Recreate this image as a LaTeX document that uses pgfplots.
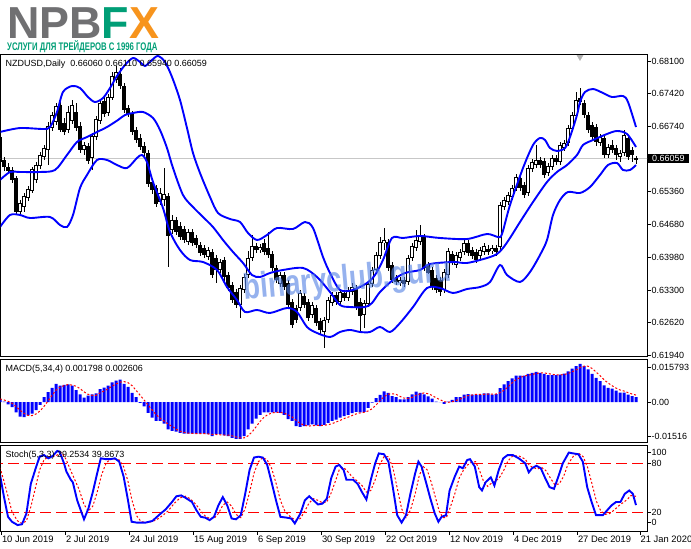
\documentclass[border=0pt]{standalone}
\usepackage{pgfplots}
\pgfplotsset{compat=1.18}
\usepackage{pgfplotstable}
\usepackage{graphicx}
\usepackage{fontspec}
\setmainfont{Liberation Sans}
\definecolor{mtblue}{RGB}{0,0,255}
\definecolor{npgray}{RGB}{112,112,114}
\definecolor{npgreen}{RGB}{0,158,118}
\definecolor{nporange}{RGB}{247,148,29}
\definecolor{wmblue}{RGB}{85,130,228}
\newcommand{\mtfont}{\fontsize{9}{10.8}\selectfont}
\newcommand{\dtfont}{\fontsize{9.4}{11}\selectfont}

\pgfplotstableread{
i o h l c
0 0.66510 0.66594 0.65944 0.65986
1 0.66028 0.66091 0.65798 0.65881
2 0.65881 0.65965 0.65735 0.65798
3 0.65819 0.65881 0.65546 0.65609
4 0.65651 0.65693 0.64876 0.64939
5 0.64939 0.65190 0.64876 0.65127
6 0.65043 0.65337 0.64939 0.65274
7 0.65232 0.65483 0.65169 0.65420
8 0.65379 0.65881 0.65337 0.65839
9 0.65609 0.65986 0.65546 0.65923
10 0.65902 0.66196 0.65839 0.66133
11 0.66091 0.66342 0.66028 0.66279
12 0.66238 0.66824 0.65923 0.66740
13 0.66698 0.67034 0.66636 0.66971
14 0.66824 0.67222 0.66761 0.67159
15 0.67180 0.67285 0.66615 0.66657
16 0.66803 0.66908 0.66552 0.66615
17 0.66657 0.67159 0.66594 0.67034
18 0.66845 0.67285 0.66782 0.67180
19 0.67034 0.67222 0.66636 0.66698
20 0.66740 0.66824 0.66175 0.66238
21 0.66238 0.66405 0.66133 0.66342
22 0.66321 0.66384 0.65944 0.66007
23 0.66070 0.66594 0.65819 0.66531
24 0.66510 0.66950 0.66447 0.66887
25 0.66845 0.67285 0.66782 0.67222
26 0.67264 0.67348 0.66929 0.66992
27 0.67013 0.67411 0.66950 0.67348
28 0.67327 0.67872 0.67285 0.67788
29 0.67704 0.67998 0.67641 0.67872
30 0.67830 0.67956 0.67516 0.67578
31 0.67578 0.67641 0.67013 0.67076
32 0.67118 0.67180 0.66929 0.66992
33 0.66992 0.67055 0.66552 0.66615
34 0.66657 0.66719 0.66384 0.66447
35 0.66489 0.66573 0.66238 0.66300
36 0.66321 0.66405 0.66112 0.66175
37 0.66175 0.66238 0.65463 0.65525
38 0.65567 0.65651 0.65316 0.65400
39 0.65442 0.65504 0.65043 0.65106
40 0.65148 0.65442 0.65085 0.65337
41 0.65190 0.65860 0.65064 0.65316
42 0.65274 0.65337 0.63787 0.64436
43 0.64562 0.64876 0.64478 0.64771
44 0.64771 0.64834 0.64457 0.64520
45 0.64646 0.64729 0.64352 0.64415
46 0.64583 0.64646 0.64289 0.64352
47 0.64310 0.64583 0.64248 0.64520
48 0.64520 0.64583 0.64227 0.64289
49 0.64394 0.64457 0.64185 0.64248
50 0.64248 0.64310 0.64017 0.64080
51 0.64185 0.64248 0.63975 0.64038
52 0.63996 0.64206 0.63933 0.64143
53 0.64101 0.64164 0.63556 0.63619
54 0.63975 0.64038 0.63451 0.63724
55 0.63724 0.63954 0.63661 0.63891
56 0.63933 0.63996 0.63493 0.63577
57 0.63619 0.63682 0.63284 0.63347
58 0.63409 0.63472 0.63032 0.63095
59 0.63263 0.63326 0.62928 0.62990
60 0.62990 0.63409 0.62718 0.63347
61 0.63305 0.63640 0.63242 0.63577
62 0.63619 0.64122 0.63556 0.63975
63 0.63975 0.64457 0.63912 0.64227
64 0.64227 0.64289 0.64080 0.64143
65 0.64143 0.64268 0.64080 0.64206
66 0.64289 0.64373 0.64038 0.64101
67 0.64185 0.64520 0.63975 0.64038
68 0.64059 0.64122 0.63703 0.63766
69 0.63766 0.63828 0.63451 0.63514
70 0.63430 0.63682 0.63368 0.63619
71 0.63619 0.63682 0.63305 0.63368
72 0.63451 0.63514 0.62928 0.62990
73 0.63053 0.63116 0.62509 0.62572
74 0.62928 0.62990 0.62614 0.62676
75 0.62928 0.63305 0.62865 0.63242
76 0.63179 0.63242 0.62928 0.62990
77 0.63053 0.63116 0.62655 0.62718
78 0.62781 0.63053 0.62718 0.62990
79 0.62928 0.62990 0.62551 0.62614
80 0.62655 0.62718 0.62362 0.62467
81 0.62425 0.62740 0.62090 0.62676
82 0.62676 0.63158 0.62614 0.63095
83 0.63032 0.63263 0.62969 0.63200
84 0.63200 0.63263 0.62990 0.63053
85 0.63053 0.63325 0.62990 0.63263
86 0.63242 0.63305 0.63074 0.63137
87 0.63137 0.63367 0.63074 0.63305
88 0.63263 0.63451 0.63200 0.63367
89 0.63346 0.63409 0.62886 0.62948
90 0.63053 0.63137 0.62425 0.62760
91 0.62781 0.63095 0.62509 0.63032
92 0.63011 0.63493 0.62948 0.63430
93 0.63430 0.63786 0.63367 0.63724
94 0.63724 0.64101 0.63661 0.64038
95 0.64017 0.64415 0.63954 0.64310
96 0.64289 0.64604 0.64143 0.64352
97 0.64310 0.64373 0.63703 0.63766
98 0.63828 0.63891 0.63451 0.63514
99 0.63556 0.63619 0.63409 0.63472
100 0.63451 0.63577 0.63388 0.63514
101 0.63514 0.63577 0.63367 0.63430
102 0.63472 0.64038 0.63409 0.63975
103 0.63975 0.64289 0.63912 0.64227
104 0.64185 0.64562 0.64122 0.64352
105 0.64310 0.64666 0.64248 0.64457
106 0.64415 0.64478 0.63703 0.63766
107 0.63828 0.63891 0.63640 0.63661
108 0.63724 0.63786 0.63305 0.63367
109 0.63556 0.63619 0.63242 0.63305
110 0.63514 0.63577 0.63179 0.63263
111 0.63305 0.63745 0.63242 0.63682
112 0.63619 0.64185 0.63556 0.64122
113 0.64059 0.64122 0.63828 0.63891
114 0.63828 0.64101 0.63766 0.64038
115 0.63975 0.64164 0.63912 0.64101
116 0.64101 0.64352 0.64038 0.64289
117 0.64289 0.64352 0.64017 0.64080
118 0.64143 0.64206 0.63954 0.64017
119 0.64101 0.64164 0.63870 0.63933
120 0.64017 0.64206 0.63954 0.64143
121 0.64101 0.64289 0.64038 0.64227
122 0.64164 0.64248 0.64038 0.64101
123 0.64122 0.64248 0.64059 0.64185
124 0.64185 0.64248 0.64017 0.64101
125 0.64206 0.65148 0.64143 0.65085
126 0.65043 0.65253 0.64981 0.65190
127 0.65148 0.65358 0.65085 0.65295
128 0.65253 0.65504 0.65190 0.65442
129 0.65442 0.65735 0.65379 0.65672
130 0.65651 0.65714 0.65379 0.65442
131 0.65504 0.65567 0.65232 0.65295
132 0.65337 0.65923 0.65274 0.65860
133 0.65839 0.66049 0.65777 0.65986
134 0.65923 0.66342 0.65860 0.66028
135 0.66028 0.66091 0.65860 0.65923
136 0.66007 0.66070 0.65651 0.65714
137 0.65756 0.65965 0.65693 0.65902
138 0.65881 0.66133 0.65819 0.66070
139 0.66070 0.66133 0.65923 0.65986
140 0.65986 0.66405 0.65923 0.66342
141 0.66279 0.66447 0.66217 0.66384
142 0.66384 0.66761 0.66321 0.66698
143 0.66678 0.67034 0.66615 0.66971
144 0.66950 0.67453 0.66887 0.67285
145 0.67327 0.67537 0.67180 0.67243
146 0.67222 0.67285 0.66908 0.66971
147 0.66971 0.67034 0.66594 0.66657
148 0.66761 0.66824 0.66447 0.66510
149 0.66719 0.66782 0.66321 0.66405
150 0.66384 0.66573 0.66321 0.66510
151 0.66489 0.66552 0.66070 0.66133
152 0.66133 0.66363 0.66070 0.66300
153 0.66342 0.66447 0.66175 0.66238
154 0.66279 0.66342 0.66028 0.66133
155 0.66091 0.66238 0.65986 0.66175
156 0.66175 0.66657 0.66112 0.66552
157 0.66489 0.66552 0.66028 0.66091
158 0.66238 0.66300 0.65986 0.66133
159 0.66060 0.66110 0.65940 0.66059
}\candles

\pgfplotstableread{
i p
0 0.66615
5 0.66698
10.75 0.66678
12.5 0.66719
14.25 0.67034
15.75 0.67453
18 0.67578
20 0.67536
22 0.67348
23.75 0.67243
25.75 0.67327
27.5 0.67536
29.25 0.67788
31.25 0.68018
33.25 0.68165
35 0.68081
36.25 0.67997
38 0.68123
39.5 0.68207
41.25 0.68081
43 0.67767
45 0.67285
46.75 0.66698
48.25 0.66175
50 0.65756
52.5 0.65253
54.5 0.64918
57.5 0.64792
60 0.64729
62 0.64499
64.25 0.64352
66.75 0.64457
69.25 0.64603
73.25 0.64583
76.25 0.64729
78.25 0.64603
80.75 0.63996
82.5 0.63661
85 0.63305
88.25 0.63305
91.75 0.63451
93.75 0.63619
95.75 0.63933
98 0.64394
100.75 0.64394
105 0.64436
110 0.64394
116.75 0.64373
121.75 0.64478
124.5 0.64415
125.5 0.64478
127.5 0.65085
130.75 0.65860
133.25 0.66342
135 0.66489
136.25 0.66447
137.5 0.66279
139.25 0.66217
141.25 0.66279
142.5 0.66510
144.25 0.66971
145 0.67243
146.25 0.67453
148.25 0.67516
150.75 0.67432
153 0.67348
155.75 0.67369
157 0.67243
159 0.66719
}\bbup

\pgfplotstableread{
i p
0 0.65609
2.5 0.65777
5 0.65777
10 0.65777
13.75 0.65819
16.75 0.66133
19.25 0.66405
21.75 0.66510
24.25 0.66615
26.75 0.66719
29.5 0.66866
31.25 0.66971
33.25 0.67013
35.75 0.67034
38.25 0.66908
40 0.66657
41.75 0.66279
43.25 0.65860
45.75 0.65295
48.25 0.65043
50.75 0.64834
53.25 0.64624
55.75 0.64352
58.25 0.64101
60.75 0.63871
63 0.63619
65 0.63577
67.5 0.63661
70.75 0.63724
75.75 0.63766
79.25 0.63577
82.5 0.63263
85 0.62990
87.5 0.62948
91.25 0.62948
93 0.63032
95 0.63263
98.25 0.63514
101.25 0.63661
105 0.63724
107.5 0.63849
113.25 0.63891
116.75 0.63871
121.75 0.63975
124.25 0.64059
125.75 0.64185
127.5 0.64394
130 0.64729
133.25 0.65148
136.75 0.65567
139.25 0.65777
141.75 0.65923
144.25 0.66133
145.75 0.66342
148.25 0.66447
151.75 0.66573
154.25 0.66636
156.75 0.66573
159 0.66300
}\bbmid

\pgfplotstableread{
i p
0 0.64625
2.5 0.64876
5 0.64876
7.5 0.64813
12.5 0.64834
15 0.64666
16.75 0.64625
18.25 0.64876
20 0.65441
21.75 0.65714
24.25 0.66028
26.75 0.66028
29.25 0.65923
31.75 0.65860
34.25 0.66070
35.5 0.66133
36.75 0.65986
38.25 0.65567
40.75 0.65022
42.5 0.64520
45 0.64143
47.5 0.63933
50.75 0.63891
54.25 0.63724
56.75 0.63367
59.25 0.63095
61.25 0.62844
64.25 0.62886
67.5 0.62823
71.75 0.62928
74.25 0.62844
76.75 0.62530
79.25 0.62404
82.5 0.62320
85 0.62425
87.5 0.62467
90 0.62425
92.5 0.62425
95 0.62530
97.5 0.62425
100 0.62613
103.25 0.62948
106.75 0.63346
110 0.63346
113.25 0.63242
116.75 0.63325
120 0.63367
122.5 0.63472
125 0.63829
126.75 0.63619
130 0.63472
132.5 0.63682
135 0.64038
136.75 0.64352
138.25 0.64876
140 0.65190
142 0.65358
145 0.65337
147.5 0.65462
150 0.65714
152 0.65923
154.25 0.65965
155.75 0.65819
157.5 0.65819
159 0.65923
}\bblow

\pgfplotstableread{
i m s
0 0.0010 0.0012
1 0.0002 0.0008
2 -0.0008 0.0003
3 -0.0019 -0.0004
4 -0.0038 -0.0016
5 -0.0054 -0.0030
6 -0.0056 -0.0042
7 -0.0049 -0.0049
8 -0.0043 -0.0050
9 -0.0030 -0.0044
10 -0.0010 -0.0033
11 0.0018 -0.0016
12 0.0037 0.0004
13 0.0053 0.0025
14 0.0068 0.0044
15 0.0061 0.0055
16 0.0064 0.0061
17 0.0066 0.0065
18 0.0061 0.0063
19 0.0044 0.0059
20 0.0029 0.0050
21 0.0017 0.0038
22 0.0024 0.0029
23 0.0029 0.0025
24 0.0032 0.0025
25 0.0048 0.0034
26 0.0054 0.0041
27 0.0061 0.0049
28 0.0073 0.0059
29 0.0080 0.0067
30 0.0083 0.0074
31 0.0068 0.0076
32 0.0056 0.0072
33 0.0034 0.0061
34 0.0018 0.0044
35 -0.0003 0.0026
36 -0.0016 0.0008
37 -0.0040 -0.0010
38 -0.0058 -0.0029
39 -0.0070 -0.0046
40 -0.0070 -0.0060
41 -0.0080 -0.0070
42 -0.0101 -0.0081
43 -0.0107 -0.0090
44 -0.0109 -0.0100
45 -0.0114 -0.0108
46 -0.0117 -0.0112
47 -0.0117 -0.0115
48 -0.0117 -0.0116
49 -0.0117 -0.0117
50 -0.0117 -0.0117
51 -0.0117 -0.0117
52 -0.0119 -0.0118
53 -0.0126 -0.0120
54 -0.0119 -0.0120
55 -0.0119 -0.0121
56 -0.0123 -0.0122
57 -0.0126 -0.0122
58 -0.0133 -0.0125
59 -0.0136 -0.0129
60 -0.0136 -0.0133
61 -0.0126 -0.0133
62 -0.0101 -0.0125
63 -0.0080 -0.0111
64 -0.0061 -0.0092
65 -0.0047 -0.0072
66 -0.0038 -0.0056
67 -0.0038 -0.0046
68 -0.0038 -0.0040
69 -0.0038 -0.0038
70 -0.0040 -0.0038
71 -0.0047 -0.0041
72 -0.0063 -0.0047
73 -0.0070 -0.0055
74 -0.0089 -0.0067
75 -0.0092 -0.0079
76 -0.0089 -0.0085
77 -0.0086 -0.0089
78 -0.0083 -0.0088
79 -0.0086 -0.0086
80 -0.0089 -0.0086
81 -0.0084 -0.0086
82 -0.0077 -0.0084
83 -0.0070 -0.0080
84 -0.0065 -0.0074
85 -0.0058 -0.0068
86 -0.0052 -0.0061
87 -0.0047 -0.0056
88 -0.0041 -0.0050
89 -0.0036 -0.0044
90 -0.0038 -0.0040
91 -0.0036 -0.0038
92 -0.0021 -0.0033
93 -0.0002 -0.0025
94 0.0015 -0.0011
95 0.0027 0.0005
96 0.0040 0.0020
97 0.0034 0.0029
98 0.0022 0.0031
99 0.0018 0.0029
100 0.0010 0.0021
101 0.0010 0.0015
102 0.0018 0.0014
103 0.0029 0.0017
104 0.0039 0.0025
105 0.0034 0.0030
106 0.0029 0.0034
107 0.0021 0.0031
108 0.0013 0.0025
109 0.0002 0.0016
110 0.0000 0.0009
111 -0.0007 0.0002
112 0.0002 -0.0001
113 0.0008 0.0001
114 0.0018 0.0006
115 0.0018 0.0011
116 0.0028 0.0018
117 0.0030 0.0024
118 0.0028 0.0026
119 0.0028 0.0029
120 0.0028 0.0029
121 0.0032 0.0029
122 0.0032 0.0030
123 0.0028 0.0030
124 0.0030 0.0030
125 0.0052 0.0035
126 0.0066 0.0044
127 0.0078 0.0056
128 0.0088 0.0071
129 0.0098 0.0083
130 0.0098 0.0091
131 0.0098 0.0096
132 0.0105 0.0100
133 0.0108 0.0102
134 0.0112 0.0106
135 0.0108 0.0108
136 0.0105 0.0108
137 0.0100 0.0106
138 0.0100 0.0103
139 0.0100 0.0101
140 0.0102 0.0101
141 0.0106 0.0102
142 0.0114 0.0106
143 0.0124 0.0112
144 0.0133 0.0119
145 0.0142 0.0128
146 0.0133 0.0133
147 0.0121 0.0133
148 0.0105 0.0125
149 0.0090 0.0112
150 0.0078 0.0098
151 0.0062 0.0083
152 0.0053 0.0071
153 0.0050 0.0061
154 0.0043 0.0052
155 0.0035 0.0045
156 0.0035 0.0041
157 0.0028 0.0035
158 0.0022 0.0030
159 0.0018 0.0026
}\macd

\pgfplotstableread{
i v
0 66
1 39
2 15
3 9
4.4 5
5.5 6
6.6 19
7.7 55
8.8 72
9.9 88
11 90
12.1 86
13.2 89
14.3 95
14.9 94
16 80
16.6 70
17.7 60
18.2 57
19.3 35
21 12
22.1 25
23.2 45
24.3 68
25.2 86
26.5 85
27.6 85
28.7 86
29.8 82
30.9 64
32 35
32.9 9
34.2 8
36.4 8
38.1 10
39.7 17
41.4 24
43 33
44.1 40
45.3 41
46.4 38
48 33
49.1 23
50.2 15
51.3 14
52.4 11
53.5 15
54.6 29
55.7 39
56.8 29
57.9 13
59 12
60.2 17
61.3 43
62.4 72
63.5 87
64.6 88
65.7 87
66.8 78
67.9 57
69 35
70.1 15
71.7 14
72.8 13
73.7 7
75.1 19
76.2 35
77.3 40
78.4 35
79.5 30
80.6 31
81.7 37
82.8 62
83.9 76
84.8 78
85.9 72
86.6 60
88.3 60
89.4 55
90.5 45
91.6 36
92.7 60
93.8 80
94.7 92
96 91
97.1 82
98.2 51
99.3 17
100.4 8
101.5 17
102.6 43
103.8 68
104.6 82
105.4 76
106.5 57
107.6 37
108.7 19
109.6 9
110.4 15
111.5 17
112.4 47
113.7 64
114.8 76
115.7 74
116.8 84
117.5 85
118.7 76
119.8 51
120.5 47
121.4 57
122.7 63
123.6 53
124.7 72
125.8 86
126.9 90
128.2 90
129.7 86
131.3 80
132.2 69
133 74
134.1 77
135.2 74
136.3 62
137.4 51
138.5 49
139.6 64
140.7 80
142.2 93
143.3 92
144.6 91
145.7 82
146.8 51
147.9 33
149 17
150.7 17
151.8 23
152.9 29
154 33
155.1 33
156.2 43
157.3 47
158.2 43
159 29.25
}\stochmain

\pgfplotstableread{
i v
0 75
1 58
2 40
3 21
4.4 10
5.5 7
6.6 10
7.7 27
8.8 49
9.9 72
11 84
12.1 88
13.2 88
14.3 90
15.4 93
16.5 85
17.6 72
18.7 60
19.8 48
21 30
22.1 22
23.2 28
24.3 45
25.4 66
26.5 80
27.6 85
28.7 85
29.8 84
30.9 76
32 58
33 35
34.2 16
35.3 9
37 8
39 11
40.5 16
42 22
43.5 31
45 38
46.4 40
47.5 37
49 30
50.2 22
51.3 16
52.4 13
53.5 13
54.6 19
55.7 29
56.8 33
57.9 28
59 18
60.2 14
61.3 25
62.4 45
63.5 68
64.6 82
65.7 87
66.8 84
67.9 74
69 56
70.1 35
71.2 22
72.8 14
74 11
75.1 13
76.2 22
77.3 32
78.4 37
79.5 35
80.6 32
81.7 33
82.8 44
83.9 59
84.8 72
85.9 75
86.9 70
88 64
89.4 58
90.5 53
91.6 45
92.7 47
93.8 60
94.9 78
96 88
97.1 88
98.2 75
99.3 50
100.4 25
101.5 14
102.6 23
103.8 43
104.8 65
105.8 76
106.8 72
107.8 57
108.9 38
109.8 22
110.7 14
111.6 14
112.6 27
113.7 43
114.8 62
115.9 72
116.9 78
117.8 81
118.9 82
119.9 71
120.9 58
121.9 52
122.9 56
123.9 58
124.9 63
125.9 71
127 83
128.2 89
129.7 89
131.3 85
132.4 77
133.3 75
134.3 73
135.4 75
136.5 71
137.6 62
138.7 54
139.8 55
140.9 64
142 79
143.4 89
144.7 92
145.8 88
146.9 75
148 55
149.1 34
150.2 22
151.3 18
152.4 19
153.5 23
154.6 28
155.7 32
156.8 36
157.8 41
159 39.87
}\stochsig

\pgfplotsset{
  mtaxis/.style={
    scale only axis, width=646.5bp, xmin=0.125, xmax=161.75,
    anchor=south west,
    axis line style={black, line width=1bp},
    tick style={black, line width=0.8bp},
    tick align=outside, major tick length=3.5bp,
    ytick pos=right, yticklabel pos=right,
    yticklabel style={font=\mtfont, inner sep=1bp},
    xtick=\empty, scaled ticks=false,
    clip mode=individual,
  },
  wick/.style={draw=none, forget plot, error bars/.cd, y dir=both, y explicit, error mark=none,
    error bar style={draw=black, line width=1bp}},
  body/.style={draw=none, forget plot, error bars/.cd, y dir=both, y explicit, error mark=none,
    error bar style={draw=black, line width=3.2bp}},
  inner/.style={draw=none, forget plot, error bars/.cd, y dir=both, y explicit, error mark=none,
    error bar style={draw=white, line width=1.2bp}},
}

\begin{document}
\begin{tikzpicture}[x=1bp,y=1bp]
\useasboundingbox (0bp,0bp) rectangle (691bp,549bp);

% logo
\node[anchor=base west, inner sep=0, font=\fontsize{45}{45}\selectfont\bfseries] at (7bp,510.5bp)
  {\textcolor{npgray}{NPB}\textcolor{npgreen}{F}\textcolor{nporange}{X}};
\node[anchor=base west, inner sep=0, text=npgreen] at (7bp,498.3bp)
  {\scalebox{0.65}[0.92]{\fontsize{12}{12}\selectfont\bfseries УСЛУГИ ДЛЯ ТРЕЙДЕРОВ С 1996 ГОДА}};

% main price panel
\begin{axis}[mtaxis, at={(0.5bp,192bp)}, height=302bp,
  ymin=0.61901, ymax=0.68228,
  ytick={0.6194,0.6262,0.6330,0.6398,0.6468,0.6536,0.6674,0.6742,0.6810},
  yticklabels={0.61940,0.62620,0.63300,0.63980,0.64680,0.65360,0.66740,0.67420,0.68100}]
\addplot[color=black!22, line width=0.9bp, forget plot] coordinates {(-2,0.66059) (170,0.66059)};
\addplot[wick] table[x=i, y expr={(\thisrow{h}+\thisrow{l})/2}, y error expr={(\thisrow{h}-\thisrow{l})/2}] {\candles};
\addplot[body] table[x=i, y expr={(\thisrow{o}+\thisrow{c})/2}, y error expr={max(abs(\thisrow{c}-\thisrow{o})/2,0.00011)}] {\candles};
\addplot[inner] table[x=i, y expr={(\thisrow{o}+\thisrow{c})/2}, y error expr={(\thisrow{c}>\thisrow{o}) ? max((\thisrow{c}-\thisrow{o})/2-0.00021,0) : 0}] {\candles};
\addplot[mtblue, line width=1.9bp, smooth] table[x=i, y=p] {\bbup};
\addplot[mtblue, line width=1.9bp, smooth] table[x=i, y=p] {\bbmid};
\addplot[mtblue, line width=1.9bp, smooth] table[x=i, y=p] {\bblow};
\addplot[only marks, mark=triangle*, mark size=3.5bp, mark options={rotate=180, fill=black!30, draw=black!30}] coordinates {(145,0.68186)};
\node[anchor=base west, inner sep=0, font=\mtfont] at (rel axis cs:0,1) [xshift=5bp, yshift=-11.5bp]
  {NZDUSD,Daily\ \ 0.66060 0.66110 0.65940 0.66059};
\node[anchor=west, fill=black, text=white, font=\mtfont, inner xsep=4.5bp, inner ysep=1.8bp] at (axis cs:161.75,0.66059) [xshift=0.5bp] {0.66059};
\end{axis}

% MACD panel
\begin{axis}[mtaxis, at={(0.5bp,106bp)}, height=83.5bp,
  ymin=-0.01516, ymax=0.015793,
  ytick={-0.01257,0,0.01275}, yticklabels={-0.01516,0.00,0.015793}]
\addplot[ybar, bar width=3bp, fill=mtblue, draw=none] table[x=i, y=m] {\macd};
\addplot[red, line width=1bp, dash pattern=on 2bp off 2bp] table[x=i, y=s] {\macd};
\node[anchor=base west, inner sep=0, font=\mtfont] at (rel axis cs:0,1) [xshift=5bp, yshift=-12.5bp]
  {MACD(5,34,4) 0.001798 0.002606};
\end{axis}

% Stochastic panel
\begin{axis}[mtaxis, at={(0.5bp,18bp)}, height=85.5bp,
  ymin=-2.2, ymax=101.6,
  ytick={7.9,20,80,93.7}, yticklabels={0,20,80,100},
  xtick={0.33,16.33,32.33,48.33,64.33,80.33,96.33,112.33,128.33,144.33,160},
  xticklabels={10 Jun 2019,2 Jul 2019,24 Jul 2019,15 Aug 2019,6 Sep 2019,30 Sep 2019,22 Oct 2019,12 Nov 2019,4 Dec 2019,27 Dec 2019,21 Jan 2020},
  xtick pos=bottom,
  xticklabel style={font=\dtfont, anchor=north west, inner sep=1bp, xshift=-0.5bp}]
\addplot[red, line width=1.2bp, dash pattern=on 11bp off 5bp] coordinates {(-2,80) (170,80)};
\addplot[red, line width=1.2bp, dash pattern=on 11bp off 5bp] coordinates {(-2,20) (170,20)};
\addplot[red, line width=1bp, dash pattern=on 2bp off 2bp] table[x=i, y=v] {\stochsig};
\addplot[mtblue, line width=1.9bp] table[x=i, y=v] {\stochmain};
\node[anchor=base west, inner sep=0, font=\mtfont] at (rel axis cs:0,1) [xshift=5bp, yshift=-12bp]
  {Stoch(5,3,3) 29.2534 39.8673};
\end{axis}

% watermark
\node[rotate=5, opacity=0.62, text=wmblue, inner sep=0, font=\fontsize{36}{36}\selectfont\bfseries] at (348bp,268bp)
  {\scalebox{0.77}[1]{binaryclub.guru}};
\end{tikzpicture}
\end{document}
